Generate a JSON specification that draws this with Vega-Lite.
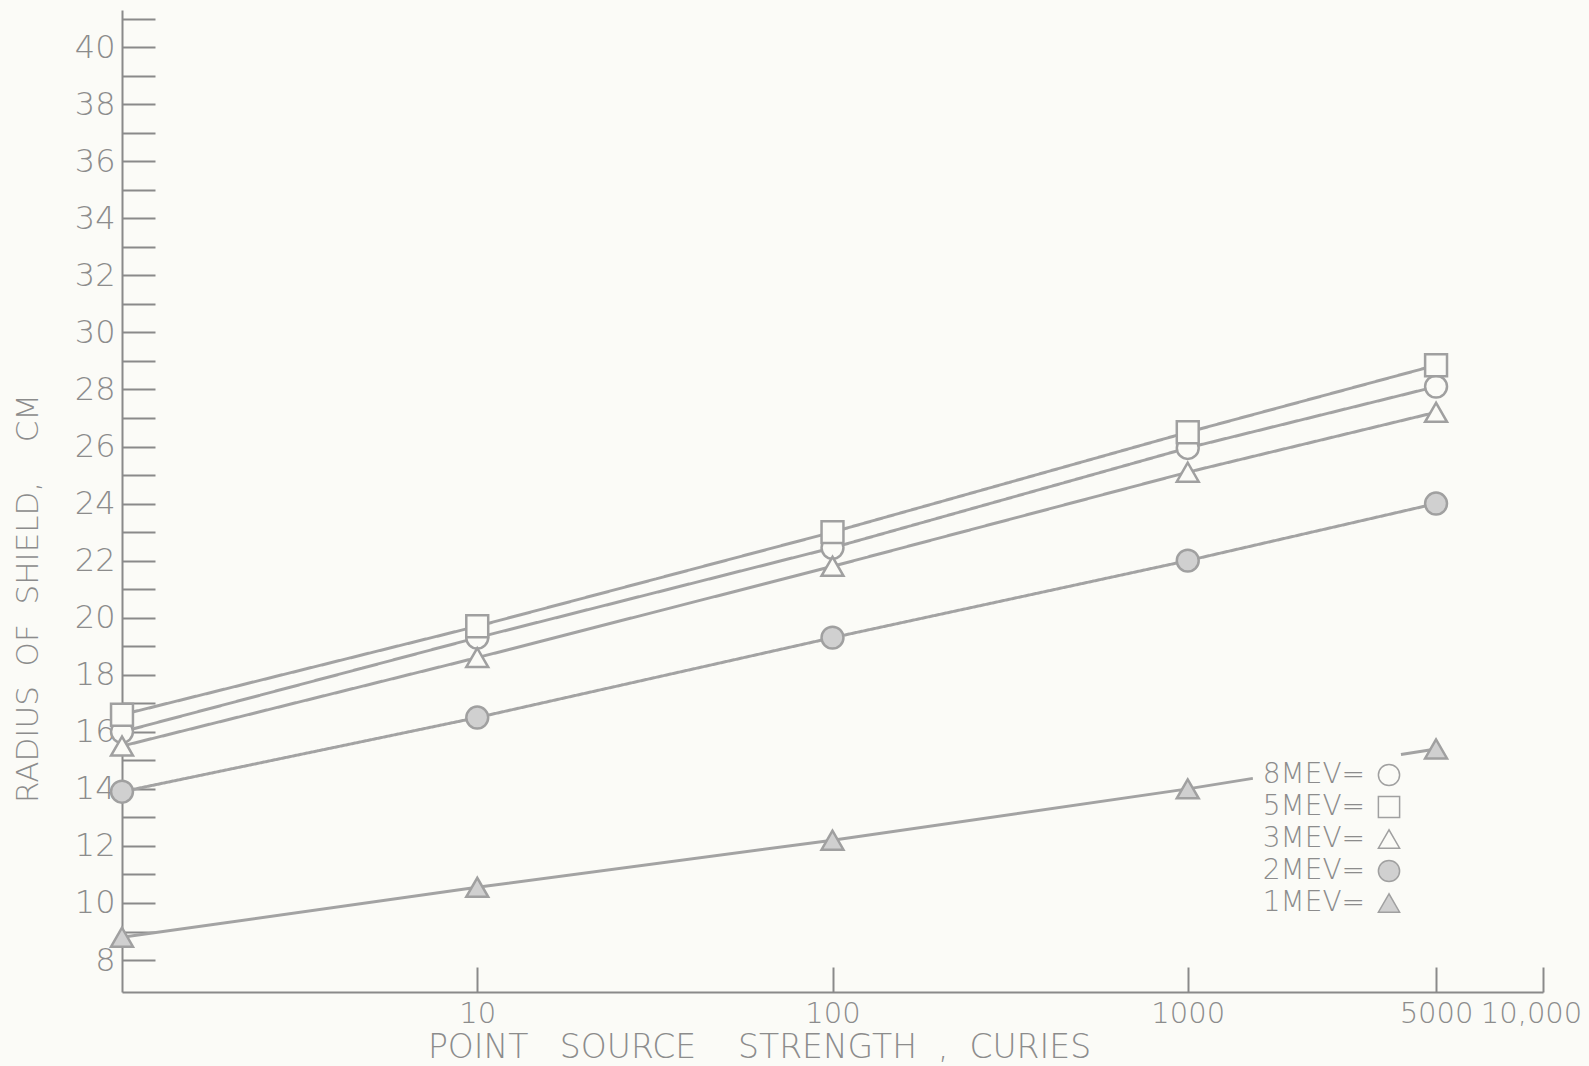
{
  "$schema": "https://vega.github.io/schema/vega-lite/v6.json",
  "autosize": {"type": "none"},
  "padding": {"left": 122, "top": 10, "right": 46, "bottom": 74},
  "width": 1421,
  "height": 982,
  "background": "#fbfbf7",
  "config": {
    "view": {"stroke": null},
    "font": "DejaVu Sans"
  },
  "resolve": {"legend": {"strokeDash": "independent"}},
  "data": {
    "values": [
      {"source": 1, "radius": 16.0, "energy": "8MEV"},
      {"source": 10, "radius": 19.3, "energy": "8MEV"},
      {"source": 100, "radius": 22.45, "energy": "8MEV"},
      {"source": 1000, "radius": 25.95, "energy": "8MEV"},
      {"source": 5000, "radius": 28.1, "energy": "8MEV"},
      {"source": 1, "radius": 16.6, "energy": "5MEV"},
      {"source": 10, "radius": 19.7, "energy": "5MEV"},
      {"source": 100, "radius": 23.0, "energy": "5MEV"},
      {"source": 1000, "radius": 26.5, "energy": "5MEV"},
      {"source": 5000, "radius": 28.85, "energy": "5MEV"},
      {"source": 1, "radius": 15.5, "energy": "3MEV"},
      {"source": 10, "radius": 18.6, "energy": "3MEV"},
      {"source": 100, "radius": 21.8, "energy": "3MEV"},
      {"source": 1000, "radius": 25.1, "energy": "3MEV"},
      {"source": 5000, "radius": 27.2, "energy": "3MEV"},
      {"source": 1, "radius": 13.9, "energy": "2MEV"},
      {"source": 10, "radius": 16.5, "energy": "2MEV"},
      {"source": 100, "radius": 19.3, "energy": "2MEV"},
      {"source": 1000, "radius": 22.0, "energy": "2MEV"},
      {"source": 5000, "radius": 24.0, "energy": "2MEV"},
      {"source": 1, "radius": 8.8, "energy": "1MEV"},
      {"source": 10, "radius": 10.55, "energy": "1MEV"},
      {"source": 100, "radius": 12.2, "energy": "1MEV"},
      {"source": 1000, "radius": 14.0, "energy": "1MEV"},
      {"source": 5000, "radius": 15.4, "energy": "1MEV"}
    ]
  },
  "encoding": {
    "x": {
      "field": "source",
      "type": "quantitative",
      "scale": {"type": "log", "domain": [1, 10000], "nice": false},
      "axis": {
        "values": [10, 100, 1000, 5000, 10000],
        "labelExpr": "datum.value >= 10000 ? format(datum.value, ',') : format(datum.value, 'd')",
        "labelOverlap": false,
        "labelFlush": false,
        "labelOffset": {"condition": {"test": "datum.value == 10000", "value": -12}, "value": 0},
        "grid": false,
        "domainColor": "#8a8a8a",
        "domainWidth": 2,
        "tickColor": "#8a8a8a",
        "tickWidth": 2,
        "tickSize": -25,
        "labelPadding": 32,
        "labelFontSize": 29,
        "labelFontWeight": 200,
        "labelColor": "#8c8c8c",
        "labelBaseline": "top",
        "title": "POINT\u00a0\u00a0\u00a0SOURCE\u00a0\u00a0\u00a0\u00a0STRENGTH\u00a0\u00a0,\u00a0\u00a0CURIES",
        "titleFontSize": 33,
        "titleFontWeight": 200,
        "titleColor": "#8c8c8c",
        "titleX": 637,
        "titleY": 55,
        "titleBaseline": "middle"
      }
    },
    "y": {
      "field": "radius",
      "type": "quantitative",
      "scale": {"domain": [6.88, 41.3], "nice": false, "zero": false},
      "axis": {
        "values": [8, 9, 10, 11, 12, 13, 14, 15, 16, 17, 18, 19, 20, 21, 22, 23, 24, 25, 26, 27, 28, 29, 30, 31, 32, 33, 34, 35, 36, 37, 38, 39, 40, 41],
        "labelExpr": "datum.value % 2 == 0 ? datum.value : ''",
        "grid": false,
        "domainColor": "#8a8a8a",
        "domainWidth": 2,
        "tickColor": "#8a8a8a",
        "tickWidth": 2,
        "tickSize": -33,
        "labelPadding": 40,
        "labelFontSize": 32,
        "labelFontWeight": 200,
        "labelColor": "#8c8c8c",
        "labelBaseline": "middle",
        "title": "RADIUS\u00a0\u00a0OF\u00a0\u00a0SHIELD,\u00a0\u00a0\u00a0\u00a0CM",
        "titleFontSize": 31,
        "titleFontWeight": 200,
        "titleColor": "#8c8c8c",
        "titleX": -94,
        "titleY": 588,
        "titleBaseline": "middle"
      }
    }
  },
  "layer": [
    {
      "mark": {"type": "line", "color": "#a3a3a3", "strokeWidth": 3},
      "encoding": {
        "detail": {"field": "energy"},
        "strokeDash": {
          "field": "energy",
          "type": "nominal",
          "scale": {
            "domain": ["8MEV", "5MEV", "3MEV", "2MEV", "1MEV"],
            "range": [[1, 0], [1, 0], [1, 0], [1, 0], [1142, 150, 1000]]
          },
          "legend": null
        }
      }
    },
    {
      "mark": {"type": "point", "stroke": "#a0a0a0", "strokeWidth": 2.5, "opacity": 1, "size": 480},
      "encoding": {
        "shape": {
          "field": "energy",
          "type": "nominal",
          "scale": {
            "domain": ["8MEV", "5MEV", "3MEV", "2MEV", "1MEV"],
            "range": ["circle", "square", "triangle-up", "circle", "triangle-up"]
          },
          "legend": {
            "orient": "none",
            "legendX": 1247,
            "legendY": 745,
            "title": null,
            "direction": "vertical",
            "padding": 6,
            "labelAlign": "right",
            "labelOffset": -38,
            "labelFontSize": 28,
            "labelFontWeight": 200,
            "labelColor": "#8c8c8c",
            "labelExpr": "datum.label + '='",
            "symbolSize": 450,
            "rowPadding": 4,
            "encode": {
              "symbols": {
                "update": {
                  "stroke": {"value": "#a0a0a0"},
                  "strokeWidth": {"value": 2.5}
                }
              }
            }
          }
        },
        "fill": {
          "field": "energy",
          "type": "nominal",
          "scale": {
            "domain": ["8MEV", "5MEV", "3MEV", "2MEV", "1MEV"],
            "range": ["#fbfbf7", "#fbfbf7", "#fbfbf7", "#d0d0d0", "#d0d0d0"]
          }
        }
      }
    }
  ]
}
